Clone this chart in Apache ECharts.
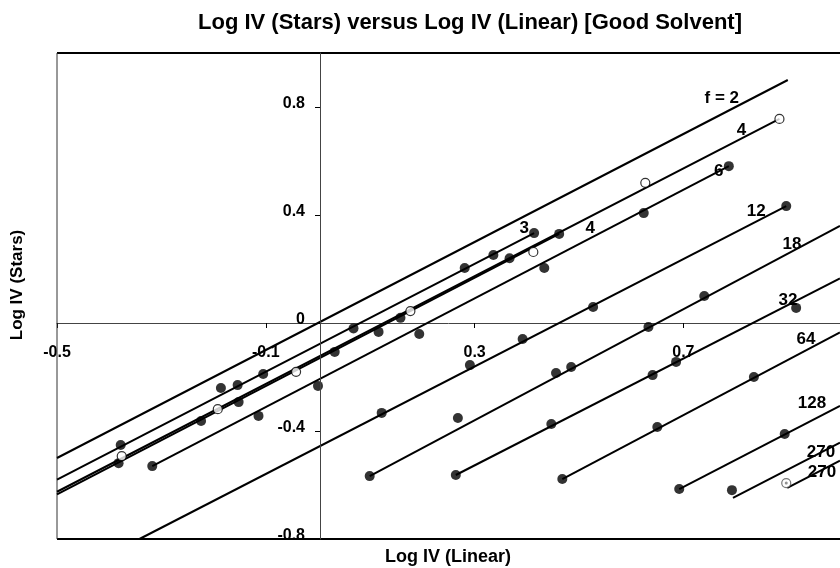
<!DOCTYPE html>
<html><head><meta charset="utf-8">
<script src="https://cdn.jsdelivr.net/npm/echarts@6/dist/echarts.min.js"></script>
<style>html,body{margin:0;padding:0;background:#fff}#c{width:840px;height:568px}</style>
</head><body><div id="c"></div>
<script>
const chartTitle = 'Log IV (Stars) versus Log IV (Linear) [Good Solvent]';
const xTitle = 'Log IV (Linear)';
const yTitle = 'Log IV (Stars)';
const xTicks = [-0.5, -0.1, 0.3, 0.7];
const yTicks = [-0.8, -0.4, 0, 0.4, 0.8];

// theoretical lines (end points)
const line_f2   = [[-0.5, -0.5], [0.9, 0.9]];
const line_f3   = [[-0.5, -0.58], [0.414, 0.333]];
const line_f4a  = [[-0.5, -0.635], [0.462, 0.33]];
const line_f4b  = [[-0.5, -0.625], [0.884, 0.756]];
const line_f6   = [[-0.3175, -0.53], [0.787, 0.581]];
const line_f12  = [[-0.342, -0.8], [0.897, 0.433]];
const line_f18  = [[0.099, -0.567], [1.0, 0.36]];
const line_f32  = [[0.264, -0.563], [1.0, 0.165]];
const line_f64  = [[0.468, -0.578], [1.0, -0.035]];
const line_f128 = [[0.692, -0.615], [1.0, -0.307]];
const line_f270a = [[0.795, -0.648], [1.0, -0.443]];
const line_f270b = [[0.899, -0.611], [1.0, -0.51]];

// measured points
const dots_f3 = [[-0.378, -0.452], [-0.186, -0.241], [-0.154, -0.230], [-0.105, -0.189], [0.068, -0.02], [0.281, 0.204], [0.336, 0.252], [0.414, 0.333]];
const dots_f4a = [[-0.382, -0.519], [-0.224, -0.363], [-0.152, -0.293], [0.032, -0.107], [0.116, -0.033], [0.158, 0.019], [0.367, 0.24], [0.462, 0.33]];
const open_f4b = [[-0.376, -0.493], [-0.192, -0.319], [-0.042, -0.181], [0.177, 0.044], [0.4125, 0.263], [0.627, 0.519], [0.884, 0.756]];
const dots_f6 = [[-0.3175, -0.53], [-0.114, -0.344], [0, -0.233], [0.194, -0.041], [0.4335, 0.204], [0.624, 0.407], [0.787, 0.581]];
const dots_f12 = [[0.122, -0.333], [0.291, -0.156], [0.392, -0.059], [0.527, 0.059], [0.897, 0.433]];
const dots_f18 = [[0.099, -0.567], [0.268, -0.352], [0.456, -0.185], [0.485, -0.163], [0.633, -0.015], [0.74, 0.1]];
const dots_f32 = [[0.264, -0.563], [0.447, -0.374], [0.641, -0.193], [0.686, -0.144], [0.916, 0.056]];
const dots_f64 = [[0.468, -0.578], [0.65, -0.385], [0.835, -0.2]];
const dots_f128 = [[0.692, -0.615], [0.894, -0.411]];
const dots_f270a = [[0.793, -0.619]];
const open_f270b = [[0.897, -0.593]];

const FONT = 'Liberation Sans, Arial, sans-serif';
const lineDefs = [
  [line_f2, 'f = 2', [-66, 18]],
  [line_f3, '3', [-10, -5]],
  [line_f4a, '4', [31, -6]],
  [line_f4b, '4', [-38, 11]],
  [line_f6, '6', [-10, 5]],
  [line_f12, '12', [-30, 5]],
  [line_f18, '18', [-48, 19]],
  [line_f32, '32', [-52, 22]],
  [line_f64, '64', [-34, 7]],
  [line_f128, '128', [-28, -3]],
  [line_f270a, '270', [-19, 10]],
  [line_f270b, '270', [-18, 12]]
];

const series = [];
lineDefs.forEach(function (d) {
  const pts = d[0];
  series.push({
    type: 'line', data: pts.map(function (p, i) {
      if (i === pts.length - 1) {
        return { value: p, label: { show: true, formatter: d[1], position: 'inside', offset: d[2],
          color: '#000', fontWeight: 'bold', fontSize: 17, fontFamily: FONT } };
      }
      return p;
    }),
    symbol: 'circle', symbolSize: 1, showSymbol: true, itemStyle: { color: 'rgba(0,0,0,0)' },
    lineStyle: { color: '#000', width: 2 }, z: 2, silent: true
  });
});
[dots_f3, dots_f4a, dots_f6, dots_f12, dots_f18, dots_f32, dots_f64, dots_f128, dots_f270a].forEach(function (d) {
  series.push({ type: 'scatter', data: d, symbol: 'circle', symbolSize: 10,
    itemStyle: { color: '#000' }, z: 3, silent: true });
});
series.push({ type: 'scatter', data: open_f4b, symbol: 'circle', symbolSize: 9,
  itemStyle: { color: '#fff', borderColor: '#000', borderWidth: 1.2 }, z: 4, silent: true });
series.push({ type: 'scatter', data: open_f270b, symbol: 'circle', symbolSize: 9,
  itemStyle: { color: '#fff', borderColor: '#555', borderWidth: 1.2 }, z: 4, silent: true });
series.push({ type: 'scatter', data: open_f270b, symbol: 'circle', symbolSize: 3,
  itemStyle: { color: '#777' }, z: 5, silent: true });

const W = 840, H = 568;
const G = { left: 57, top: 53, bottom: 29, right: -6 };
const X_MIN = -0.5, X_MAX = 1.0, Y_MIN = -0.8, Y_MAX = 1.0;
const gw = W - G.left - G.right, gh = H - G.top - G.bottom;
// move axes so that they cross at zero
const xAxisOffset = -((0 - Y_MIN) / (Y_MAX - Y_MIN)) * gh;
const yAxisOffset = -((0 - X_MIN) / (X_MAX - X_MIN)) * gw;

const fmt = function (ticks) {
  return function (v) { return ticks.some(function (t) { return Math.abs(t - v) < 1e-6; }) ? String(+v.toFixed(1)) : ''; };
};

const chart = echarts.init(document.getElementById('c'), null, { renderer: 'canvas' });
chart.setOption({
  animation: false,
  backgroundColor: '#fff',
  title: { show: false, text: chartTitle },
  grid: { left: G.left, right: G.right, top: G.top, bottom: G.bottom, containLabel: false },
  xAxis: {
    type: 'value', min: X_MIN, max: X_MAX, interval: 0.4, position: 'bottom', offset: xAxisOffset,
    axisLine: { onZero: false, lineStyle: { color: '#444', width: 1 } },
    axisTick: { show: true, length: 5, lineStyle: { color: '#000' } },
    splitLine: { show: false },
    axisLabel: { margin: 22, showMaxLabel: false, color: '#000', fontWeight: 'bold', fontSize: 16, fontFamily: FONT,
      formatter: fmt(xTicks) }
  },
  yAxis: {
    type: 'value', min: Y_MIN, max: Y_MAX, interval: 0.4, position: 'left', offset: yAxisOffset, z: 5,
    axisLine: { onZero: false, lineStyle: { color: '#444', width: 1 } },
    axisTick: { show: true, length: 5, lineStyle: { color: '#000' } },
    splitLine: { show: false },
    axisLabel: { margin: 15, showMaxLabel: false, color: '#000', fontWeight: 'bold', fontSize: 16, fontFamily: FONT,
      verticalAlign: 'bottom', lineHeight: 6, formatter: fmt(yTicks) }
  },
  graphic: [
    { type: 'line', shape: { x1: G.left, y1: G.top, x2: W, y2: G.top }, style: { stroke: '#000', lineWidth: 2 }, z: 1 },
    { type: 'line', shape: { x1: G.left, y1: H - G.bottom, x2: W, y2: H - G.bottom }, style: { stroke: '#000', lineWidth: 2 }, z: 1 },
    { type: 'line', shape: { x1: G.left, y1: G.top, x2: G.left, y2: H - G.bottom }, style: { stroke: '#333', lineWidth: 1 }, z: 1 },
    { type: 'text', x: 470, y: 23, z: 10, style: { text: chartTitle, textAlign: 'center', textVerticalAlign: 'middle',
      fill: '#000', font: 'bold 22px ' + FONT } },
    { type: 'text', x: 448, y: 557, z: 10, style: { text: xTitle, textAlign: 'center', textVerticalAlign: 'middle',
      fill: '#000', font: 'bold 18px ' + FONT } },
    { type: 'text', rotation: Math.PI / 2, x: 17, y: 285, z: 10, style: { text: yTitle, textAlign: 'center', textVerticalAlign: 'middle',
      fill: '#000', font: 'bold 17px ' + FONT } }
  ],
  series: series
});
</script>
</body></html>
